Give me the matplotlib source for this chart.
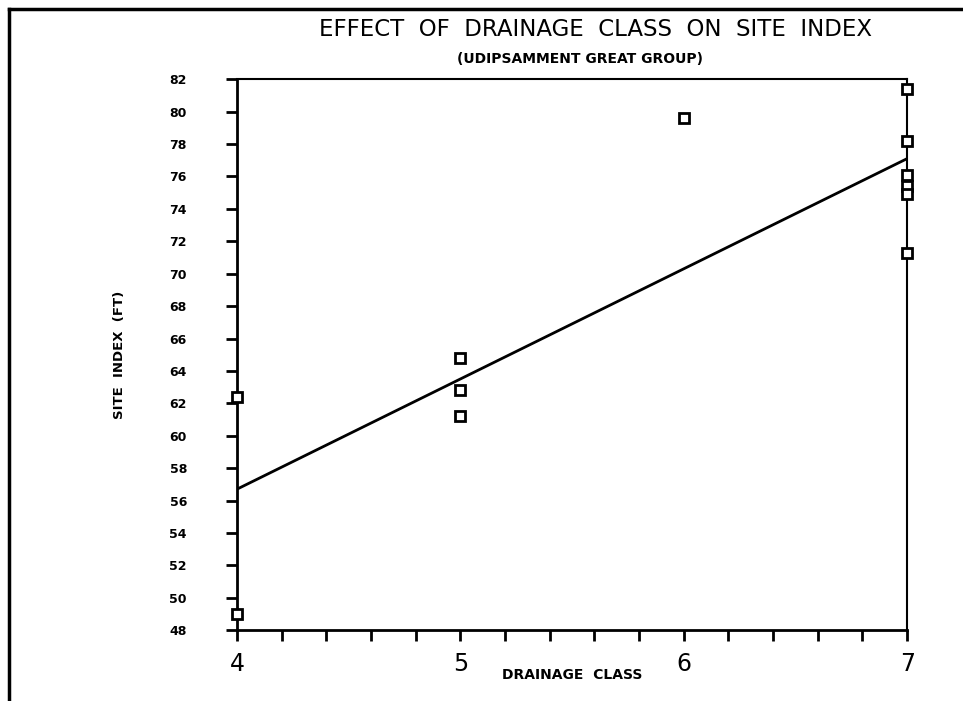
import matplotlib.pyplot as plt
from matplotlib.lines import Line2D
from matplotlib.ticker import MultipleLocator

drainage = [4, 4, 5, 5, 5, 6, 7, 7, 7, 7, 7, 7]
site_index = [62.4, 49.0, 64.8, 62.8, 61.2, 79.6, 81.4, 78.2, 76.1, 75.4, 74.9, 71.3]

# Regression line end points
fit_x = [4, 7]
fit_y = [56.7, 77.1]

y_ticks = list(range(48, 83, 2))
x_ticks = [4, 5, 6, 7]

fig = plt.figure(figsize=(9.63, 7.01), dpi=100)
ax = fig.add_axes([0.246, 0.101, 0.696, 0.786])

# Page border (top and left only, like the scan)
fig.add_artist(Line2D([0.009, 1.0], [0.987, 0.987], transform=fig.transFigure, color='black', lw=2.5))
fig.add_artist(Line2D([0.009, 0.009], [0.0, 0.987], transform=fig.transFigure, color='black', lw=2.5))

ax.plot(fit_x, fit_y, color='black', lw=2, zorder=2)
ax.plot(drainage, site_index, linestyle='none', marker='s', markersize=7.5,
        markerfacecolor='white', markeredgecolor='black', markeredgewidth=2, zorder=3, clip_on=False)

ax.set_xlim(4, 7)
ax.set_ylim(48, 82)
ax.set_yticks(y_ticks)
ax.set_xticks(x_ticks)
ax.xaxis.set_minor_locator(MultipleLocator(0.2))

for s in ax.spines.values():
    s.set_linewidth(2)
ax.spines['top'].set_linewidth(1.5)
ax.spines['right'].set_linewidth(1.5)

ax.tick_params(axis='y', direction='out', length=8, width=2, pad=28, labelsize=9)
ax.tick_params(axis='x', which='both', direction='out', length=8, width=2, pad=8, labelsize=17)
for lbl in ax.get_yticklabels():
    lbl.set_fontweight('bold')

ax.set_ylabel('SITE  INDEX  (FT)', fontsize=9.5, fontweight='bold', labelpad=31)
fig.text(0.594, 0.037, 'DRAINAGE  CLASS', ha='center', va='center',
         fontsize=10, fontweight='bold')

fig.text(0.618, 0.958, 'EFFECT  OF  DRAINAGE  CLASS  ON  SITE  INDEX',
         ha='center', va='center', fontsize=16.5)
fig.text(0.602, 0.916, '(UDIPSAMMENT GREAT GROUP)', ha='center', va='center',
         fontsize=10, fontweight='bold')

fig.savefig('out.png', dpi=100)
